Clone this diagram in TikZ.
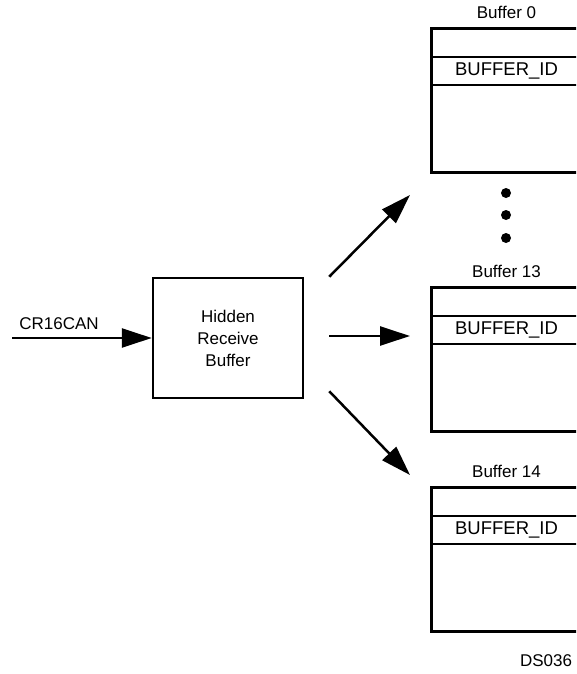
\documentclass[tikz,border=0pt]{standalone}
\usepackage{fontspec}
\setmainfont{Liberation Sans}
\usetikzlibrary{arrows.meta,positioning}
\tikzset{
  plain/.style={font=\fontsize{17}{22}\selectfont, inner sep=0pt},
  idtext/.style={font=\fontsize{18.5}{22}\selectfont, inner sep=0pt},
  hidbox/.style={plain, draw, line width=2.5pt, minimum width=150pt,
                 minimum height=120pt, align=center},
  bufbox/.style={draw, line width=3pt, minimum width=150pt,
                 minimum height=144pt, inner sep=0pt, anchor=north west},
  row/.style={line width=2.5pt},
  dot/.style={circle, fill, minimum size=10pt, inner sep=0pt},
  arrow/.style={-{Triangle[length=30pt,width=19pt]}, line width=2.5pt}
}

\begin{document}
\begin{tikzpicture}[x=1pt, y=-1pt]
  \useasboundingbox (0,0) rectangle (576,674);
  \clip (0,0) rectangle (576,674);
  \node[hidbox] (hidden) at (228,338) {Hidden\\Receive\\Buffer};
  \coordinate (in) at (12,338);
  \node[plain] (can) at (59,324) {CR16CAN};
  \draw[arrow] (in) -- (hidden.west);
  % receive buffers
  \node[bufbox] (b0) at (430,27) {};
  \node[bufbox] (b13) at (430,286) {};
  \node[bufbox] (b14) at (430,486) {};
  \foreach \b/\n in {b0/0, b13/13, b14/14} {
    \node[plain, above=8pt of \b] (\b name) {Buffer \n};
    \draw[row] ([yshift=-30pt]\b.north west) -- ([yshift=-30pt]\b.north east);
    \draw[row] ([yshift=-58pt]\b.north west) -- ([yshift=-58pt]\b.north east);
    \node[idtext] (\b id) at ([yshift=-44pt]\b.north) {BUFFER\_ID};
  }
  \node[dot] (d1) at (506,193) {};
  \node[dot] (d2) at (506,215) {};
  \node[dot] (d3) at (506,238) {};
  \coordinate (t0) at (410,195);
  \coordinate (t13) at (410,336);
  \coordinate (t14) at (410,475);
  \draw[arrow] ([xshift=25pt]hidden.north east) -- (t0);
  \draw[arrow] ([xshift=25pt,yshift=2pt]hidden.east) -- (t13);
  \draw[arrow] ([xshift=25pt,yshift=8pt]hidden.south east) -- (t14);
  \node[plain] (ds) at (546,661) {DS036};
\end{tikzpicture}
\end{document}
